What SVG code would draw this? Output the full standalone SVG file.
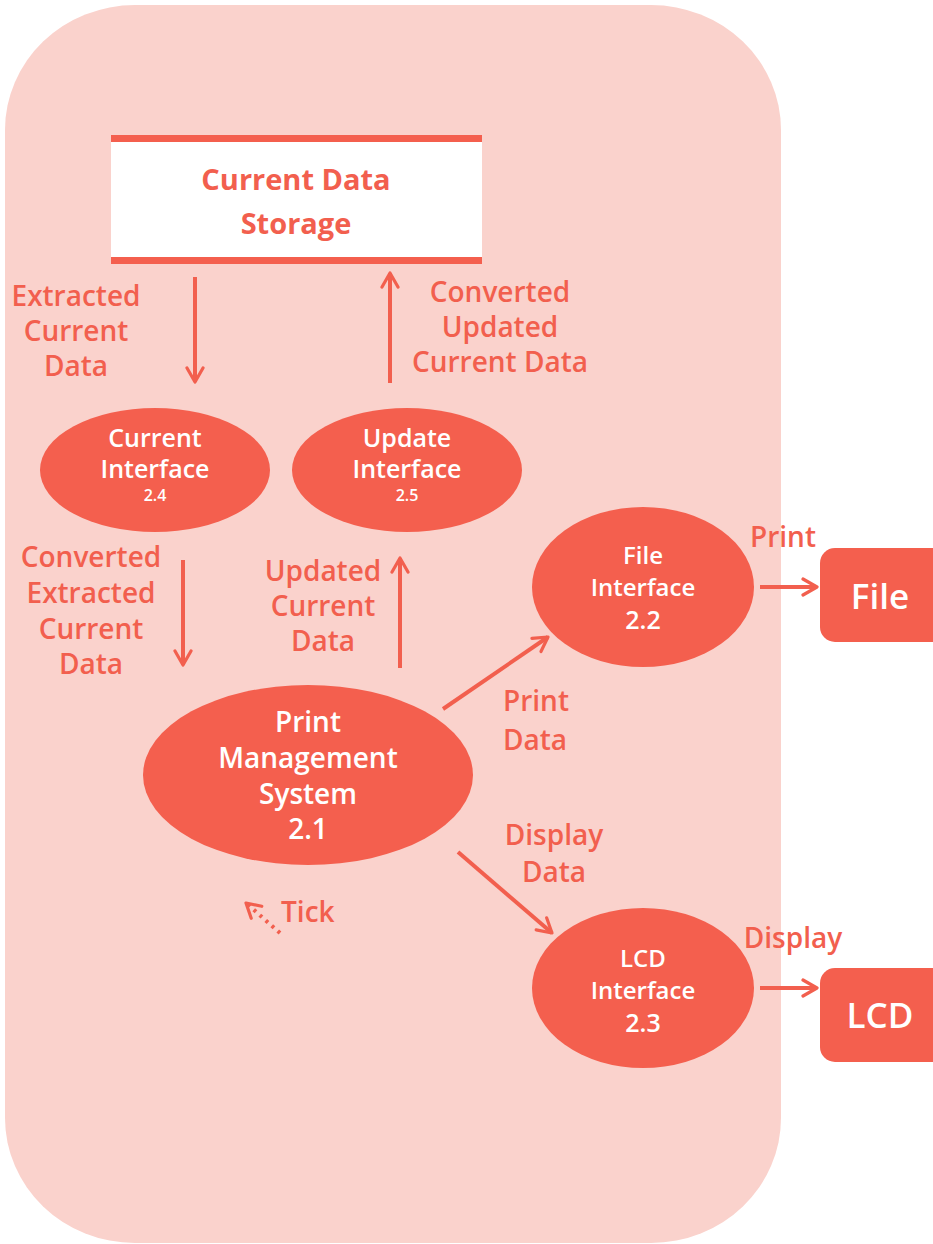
<svg xmlns="http://www.w3.org/2000/svg" width="933" height="1244" viewBox="0 0 933 1244">
<defs>
<style>
.lbl{font-family:"Open Sans","Noto Sans",sans-serif;font-size:28px;font-weight:600;fill:#F25F4E;text-anchor:middle}
.nt{font-family:"Open Sans","Noto Sans",sans-serif;font-weight:600;fill:#FFFFFF;text-anchor:middle}
.node{fill:#F45F4E}
.flow{stroke:#F25F4E;stroke-width:4;fill:none;marker-end:url(#ah)}
</style>
<marker id="ah" viewBox="0 0 20 20" refX="17" refY="10" markerWidth="5" markerHeight="5" orient="auto" markerUnits="strokeWidth">
<path d="M3,2 L17,10 L3,18" fill="none" stroke="#F25F4E" stroke-width="3.2" stroke-linecap="round" stroke-linejoin="round"/>
</marker>
</defs>
<rect width="933" height="1244" fill="#FFFFFF"/>
<rect id="boundary" x="5" y="5" width="776" height="1238" rx="130" ry="125" fill="#FAD2CC"/>

<g id="store">
<rect x="111" y="138" width="371" height="123" fill="#FFFFFF"/>
<rect x="111" y="135" width="371" height="7" fill="#F45F4E"/>
<rect x="111" y="257" width="371" height="7" fill="#F45F4E"/>
<text class="lbl" x="296" y="190" style="font-weight:bold;font-size:29px">Current Data</text>
<text class="lbl" x="296" y="234" style="font-weight:bold;font-size:29px">Storage</text>
</g>

<g id="n24">
<ellipse class="node" cx="155" cy="470" rx="115" ry="62"/>
<text class="nt" x="155" y="447" font-size="25">Current</text>
<text class="nt" x="155" y="478" font-size="25">Interface</text>
<text class="nt" x="155" y="501" font-size="16">2.4</text>
</g>
<g id="n25">
<ellipse class="node" cx="407" cy="470" rx="115" ry="62"/>
<text class="nt" x="407" y="447" font-size="25">Update</text>
<text class="nt" x="407" y="478" font-size="25">Interface</text>
<text class="nt" x="407" y="501" font-size="16">2.5</text>
</g>
<g id="n22">
<ellipse class="node" cx="643" cy="587" rx="111" ry="80"/>
<text class="nt" x="643" y="564" font-size="24">File</text>
<text class="nt" x="643" y="596" font-size="24">Interface</text>
<text class="nt" x="643" y="629" font-size="25">2.2</text>
</g>
<g id="n21">
<ellipse class="node" cx="308" cy="775" rx="165" ry="90"/>
<text class="nt" x="308" y="732" font-size="28">Print</text>
<text class="nt" x="308" y="768" font-size="28">Management</text>
<text class="nt" x="308" y="804" font-size="28">System</text>
<text class="nt" x="308" y="839" font-size="28">2.1</text>
</g>
<g id="n23">
<ellipse class="node" cx="643" cy="988" rx="111" ry="80"/>
<text class="nt" x="643" y="967" font-size="24">LCD</text>
<text class="nt" x="643" y="999" font-size="24">Interface</text>
<text class="nt" x="643" y="1032" font-size="25">2.3</text>
</g>
<g id="file">
<rect class="node" x="820" y="548" width="140" height="94" rx="15"/>
<text class="nt" x="880" y="609" font-size="35">File</text>
</g>
<g id="lcd">
<rect class="node" x="820" y="968" width="140" height="94" rx="15"/>
<text class="nt" x="880" y="1028" font-size="35">LCD</text>
</g>

<g id="connectors">
<line class="flow" x1="195" y1="277" x2="195" y2="382"/>
<line class="flow" x1="390" y1="383" x2="390" y2="273"/>
<line class="flow" x1="183" y1="560" x2="183" y2="665"/>
<line class="flow" x1="400" y1="668" x2="400" y2="558"/>
<line class="flow" x1="443" y1="709" x2="548" y2="637"/>
<line class="flow" x1="458" y1="852" x2="552" y2="933"/>
<line class="flow" x1="760" y1="587" x2="817" y2="587"/>
<line class="flow" x1="760" y1="988" x2="817" y2="988"/>
<line class="flow" x1="280" y1="933" x2="246" y2="903" stroke-dasharray="3 5" stroke-width="3.5"/>
</g>

<g id="labels">
<text class="lbl" x="76" y="306">Extracted</text>
<text class="lbl" x="76" y="341">Current</text>
<text class="lbl" x="76" y="376">Data</text>
<text class="lbl" x="500" y="302">Converted</text>
<text class="lbl" x="500" y="337">Updated</text>
<text class="lbl" x="500" y="372">Current Data</text>
<text class="lbl" x="91" y="567">Converted</text>
<text class="lbl" x="91" y="603">Extracted</text>
<text class="lbl" x="91" y="639">Current</text>
<text class="lbl" x="91" y="674">Data</text>
<text class="lbl" x="323" y="581">Updated</text>
<text class="lbl" x="323" y="616">Current</text>
<text class="lbl" x="323" y="651">Data</text>
<text class="lbl" x="503" y="711" style="text-anchor:start">Print</text>
<text class="lbl" x="503" y="750" style="text-anchor:start">Data</text>
<text class="lbl" x="554" y="845">Display</text>
<text class="lbl" x="554" y="882">Data</text>
<text class="lbl" x="281" y="922" style="text-anchor:start">Tick</text>
<text class="lbl" x="783" y="547">Print</text>
<text class="lbl" x="793" y="948">Display</text>
</g>
</svg>
